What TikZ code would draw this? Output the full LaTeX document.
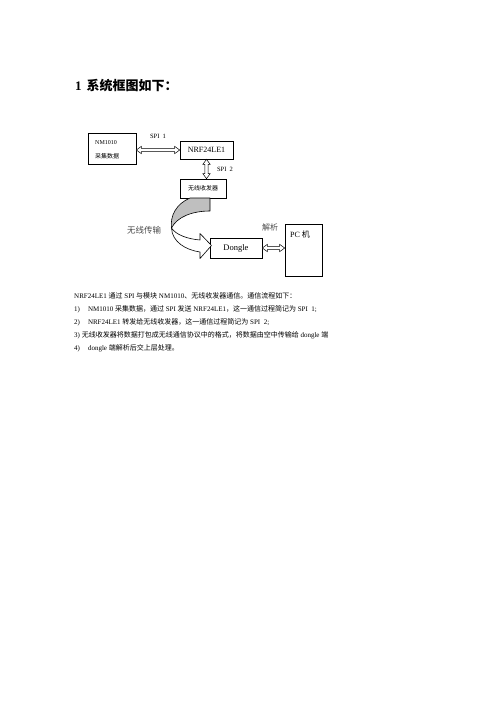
\documentclass[tikz,border=0pt]{standalone}
\usepackage{fontspec}
\setmainfont{Liberation Serif}
\newfontfamily\cjk{Noto Sans CJK SC}
\usetikzlibrary{calc}
\newcommand\zh[1]{{\cjk #1}}
\newcommand\hollowdbl[2]{%
  \draw[line width=0.5pt,line join=miter,fill=white]
    let \p1=(#1), \p2=(#2), \n1={atan2(\y2-\y1,\x2-\x1)}, \n2={veclen(\x2-\x1,\y2-\y1)} in
    [shift={(\p1)},rotate=\n1]
    (0,0) -- (5,3.6) -- (5,1.7) -- ({\n2-5},1.7) -- ({\n2-5},3.6) -- ({\n2},0)
    -- ({\n2-5},-3.6) -- ({\n2-5},-1.7) -- (5,-1.7) -- (5,-3.6) -- cycle;}
\begin{document}
\begin{tikzpicture}[x=1pt,y=-1pt,
  box/.style={draw,line width=0.6pt,inner sep=0pt},
  lbl/.style={inner sep=0pt},
  body/.style={inner sep=0pt,anchor=west,font=\fontsize{7}{8}\selectfont},
  soft/.style={text=black!70}]
\useasboundingbox (0,0) rectangle (496,702);
\fill[white] (0,0) rectangle (496,702);
% title
\node[lbl,anchor=west,font=\fontsize{13}{15}\selectfont\bfseries] (title) at (75,86) {1\hspace{5pt}\zh{系统框图如下：}};
% boxes
\node[box,minimum width=48,minimum height=31] (nm) at (112,148.5) {};
\node[lbl,anchor=west,font=\fontsize{6}{7}\selectfont] (nmt) at (95,143) {NM1010};
\node[lbl,anchor=west,font=\fontsize{6}{7}\selectfont] (nmz) at (95,156) {\zh{采集数据}};
\node[box,minimum width=53,minimum height=18,font=\fontsize{8}{9}\selectfont] (nrf) at (206.5,150) {NRF24LE1};
\node[box,minimum width=46,minimum height=19,font=\fontsize{6}{7}\selectfont] (wl) at (203,188.5) {\zh{无线收发器}};
\node[box,minimum width=52,minimum height=20,font=\fontsize{8.5}{9}\selectfont] (dg) at (236,248) {Dongle};
\node[box,minimum width=37,minimum height=52] (pc) at (303.5,250) {};
\node[lbl,anchor=west,font=\fontsize{8}{9}\selectfont] (pct) at (290,234) {PC \zh{机}};
% labels
\node[lbl,font=\fontsize{6.5}{7}\selectfont] (spi1) at (158,136) {SPI\ \ 1};
\node[lbl,font=\fontsize{6.5}{7}\selectfont] (spi2) at (225,169) {SPI\ \ 2};
\node[lbl,soft,font=\fontsize{8}{9}\selectfont] (jx) at (270,227) {\zh{解析}};
\node[lbl,soft,font=\fontsize{8.5}{9}\selectfont] (wx) at (144,230) {\zh{无线传输}};
% connectors
\hollowdbl{nm.east |- nrf.west}{nrf.west}
\hollowdbl{nrf.south}{nrf.south |- wl.north}
\hollowdbl{dg.east}{dg.east -| pc.west}
% curved arrow
\filldraw[fill=black!25,line width=0.6pt,line join=round]
  (190,198) -- (210,198) -- (210,211)
  .. controls (192,211) and (177,217) .. (171.5,228)
  .. controls (170,216) and (176,204) .. (190,198) -- cycle;
\filldraw[fill=white,line width=0.6pt,line join=round]
  (171.5,228) .. controls (176,235) and (188,239) .. (200,240)
  -- (200,233.5) -- (211.5,245.5) -- (200,258.5) -- (200,252)
  .. controls (186,250) and (172,242) .. (171.5,228) -- cycle;
% body text
\node[body] (l1) at (74,296) {NRF24LE1 \zh{通过} SPI \zh{与模块} NM1010\zh{、无线收发器通信。通信流程如下：}};
\node[body] (l2) at (74,309) {1)\hspace{8pt}NM1010 \zh{采集数据，通过} SPI \zh{发送} NRF24LE1\zh{，这一通信过程简记为} SPI\ \ 1;};
\node[body] (l3) at (74,322) {2)\hspace{8pt}NRF24LE1 \zh{转发给无线收发器，这一通信过程简记为} SPI\ \ 2;};
\node[body] (l4) at (74,335) {3) \zh{无线收发器将数据打包成无线通信协议中的格式，将数据由空中传输给} dongle \zh{端}};
\node[body] (l5) at (74,348) {4)\hspace{8pt}dongle \zh{端解析后交上层处理。}};
\end{tikzpicture}
\end{document}
